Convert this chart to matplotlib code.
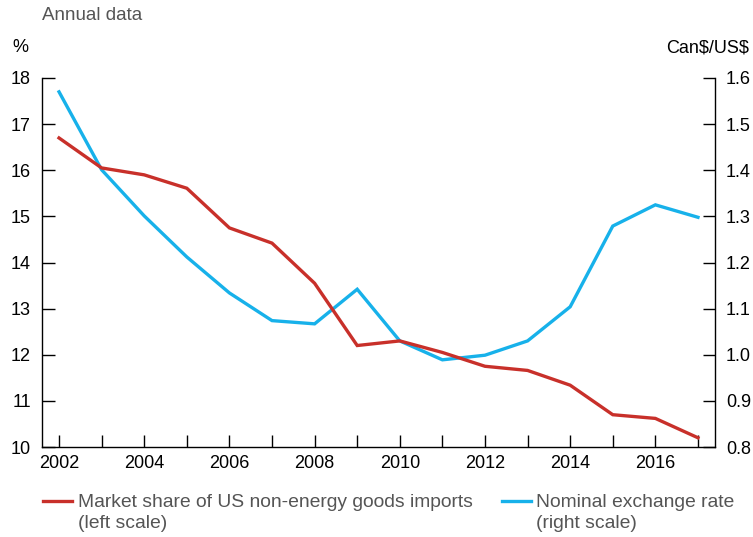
import matplotlib
matplotlib.use("Agg")
import numpy as np
import matplotlib.pyplot as plt
from matplotlib.lines import Line2D
from matplotlib.legend_handler import HandlerLine2D

years = list(range(2002, 2018))
market_share = [16.70, 16.05, 15.90, 15.61, 14.75, 14.42, 13.55, 12.20,
                12.30, 12.05, 11.75, 11.66, 11.34, 10.70, 10.62, 10.20]
exchange_rate = [1.570, 1.401, 1.301, 1.212, 1.134, 1.074, 1.067, 1.142,
                 1.030, 0.989, 0.999, 1.030, 1.104, 1.279, 1.325, 1.298]
left_ticks = list(range(10, 19))
right_ticks = [0.8, 0.9, 1.0, 1.1, 1.2, 1.3, 1.4, 1.5, 1.6]
x_label_years = list(range(2002, 2018, 2))

RED = "#C8302A"
BLUE = "#17B1EA"
GRAY = "#555555"

plt.rcParams['font.family'] = ['Liberation Sans', 'DejaVu Sans']
plt.rcParams['text.parse_math'] = False


class FirstLineHandler(HandlerLine2D):
    """Place the legend line level with the first line of a two-line label."""
    def create_artists(self, legend, orig_handle, xdescent, ydescent,
                       width, height, fontsize, trans):
        arts = super().create_artists(legend, orig_handle, xdescent, ydescent,
                                      width, height, fontsize, trans)
        for a in arts:
            a.set_ydata(np.asarray(a.get_ydata(), dtype=float) + 0.62 * fontsize)
        return arts


fig = plt.figure(figsize=(7.53, 5.37), dpi=100)
ax = fig.add_axes([42/753, 1-447/537, (715-42)/753, (447-78)/537])
ax2 = ax.twinx()

ax.plot(years, market_share, color=RED, lw=2.4, solid_joinstyle='miter', zorder=3)
ax2.plot(years, exchange_rate, color=BLUE, lw=2.4, solid_joinstyle='miter', zorder=2)
ax.set_zorder(ax2.get_zorder() + 1)
ax.patch.set_visible(False)

ax.set_xlim(2001.6, 2017.4)
ax.set_ylim(10, 18)
ax2.set_ylim(0.8, 1.6)

ax.set_yticks(left_ticks)
ax.set_yticklabels([str(t) for t in left_ticks])
ax2.set_yticks(right_ticks)
ax2.set_yticklabels([f"{t:.1f}" for t in right_ticks])
ax.set_xticks(years)
ax.set_xticklabels([str(y) if y in x_label_years else "" for y in years])

for a in (ax, ax2):
    a.spines['top'].set_visible(False)
    for s in a.spines.values():
        s.set_linewidth(1.0)
        s.set_color('black')
ax.spines['right'].set_visible(False)
ax2.spines['left'].set_visible(False)
ax2.spines['bottom'].set_visible(False)

ax.tick_params(axis='y', direction='in', length=9, width=1, labelsize=13, pad=8, colors='black')
ax.tick_params(axis='x', direction='in', length=9, width=1, labelsize=13, pad=6, colors='black')
ax2.tick_params(axis='y', direction='in', length=9, width=1, labelsize=13, pad=8, colors='black')

fig.text(42/753, 1-15/537, "Annual data", fontsize=13.5, color=GRAY, ha='left', va='center')
fig.text(12/753, 1-48/537, "%", fontsize=13, color='black', ha='left', va='center')
fig.text(749/753, 1-48/537, "Can$/US$", fontsize=13, color='black', ha='right', va='center')

handles = [Line2D([], [], color=RED, lw=2.4), Line2D([], [], color=BLUE, lw=2.4)]
labels = ["Market share of US non-energy goods imports\n(left scale)",
          "Nominal exchange rate\n(right scale)"]
leg = fig.legend(handles, labels, loc='upper left', bbox_to_anchor=(43/753, 1-494/537),
                 ncol=2, frameon=False, fontsize=13.9, handlelength=1.5, handletextpad=0.3,
                 columnspacing=1.5, labelcolor=GRAY, borderaxespad=0, borderpad=0,
                 handler_map={Line2D: FirstLineHandler()})
for t in leg.get_texts():
    t.set_linespacing(1.3)

fig.savefig("out.png", dpi=100)
